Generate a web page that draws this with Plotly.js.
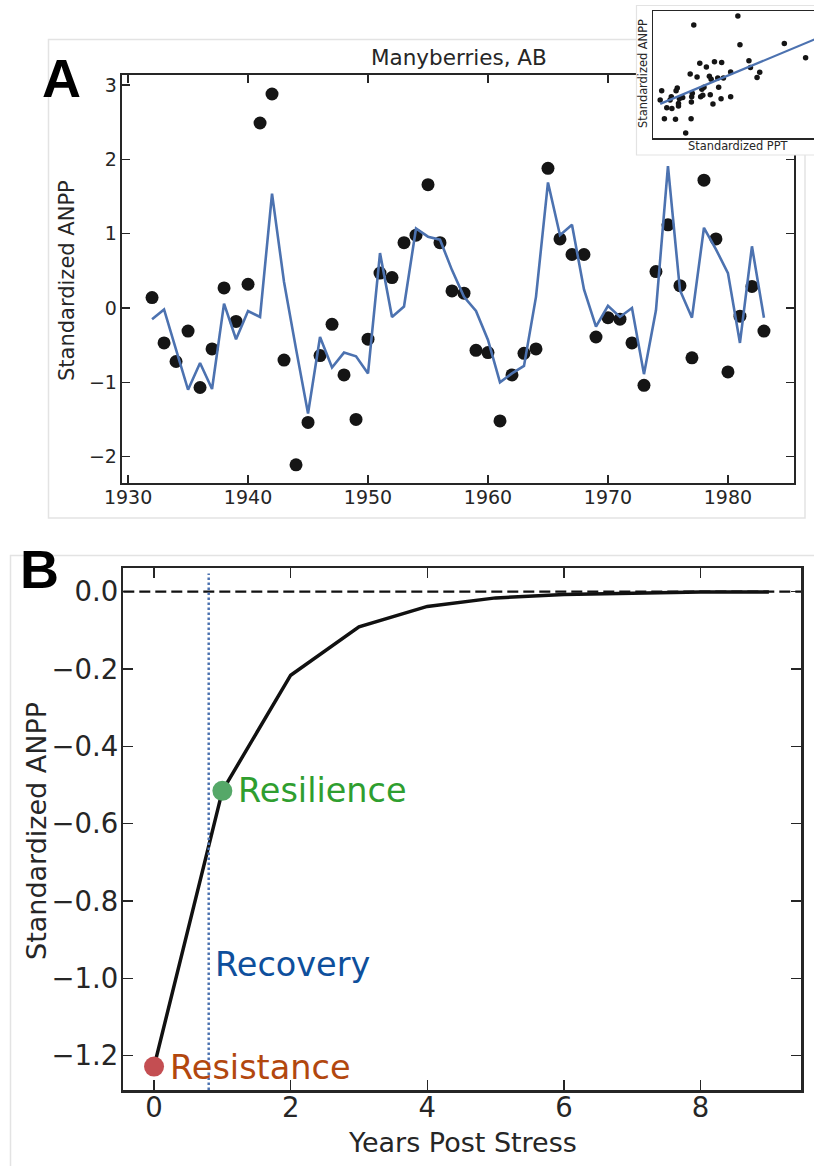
<!DOCTYPE html>
<html><head><meta charset="utf-8">
<script src="https://cdn.plot.ly/plotly-3.0.1.min.js"></script>
<style>html,body{margin:0;padding:0;background:#fff}#chart{width:814px;height:1166px}</style>
</head><body><div id="chart"></div>
<script>
// ---------- Panel A data ----------
const years = [1932,1933,1934,1935,1936,1937,1938,1939,1940,1941,1942,1943,1944,1945,1946,1947,1948,1949,1950,1951,1952,1953,1954,1955,1956,1957,1958,1959,1960,1961,1962,1963,1964,1965,1966,1967,1968,1969,1970,1971,1972,1973,1974,1975,1976,1977,1978,1979,1980,1981,1982,1983];
const anppObserved = [0.14,-0.47,-0.72,-0.31,-1.07,-0.55,0.27,-0.18,0.32,2.49,2.88,-0.70,-2.11,-1.54,-0.64,-0.22,-0.90,-1.50,-0.42,0.47,0.41,0.88,0.98,1.66,0.88,0.23,0.20,-0.57,-0.60,-1.52,-0.90,-0.61,-0.55,1.88,0.93,0.72,0.72,-0.39,-0.13,-0.15,-0.47,-1.04,0.49,1.12,0.30,-0.67,1.72,0.93,-0.86,-0.11,0.29,-0.31];
const anppModeled = [-0.15,-0.02,-0.56,-1.10,-0.74,-1.09,0.06,-0.42,-0.04,-0.12,1.54,0.35,-0.55,-1.42,-0.39,-0.80,-0.60,-0.65,-0.88,0.74,-0.12,0.02,1.07,0.96,0.92,0.51,0.15,-0.04,-0.43,-1.00,-0.88,-0.78,0.15,1.69,0.98,1.12,0.25,-0.25,0.03,-0.12,0.00,-0.89,-0.03,1.91,0.24,-0.13,1.08,0.79,0.47,-0.47,0.83,-0.13];
const yearTicks = [1930,1940,1950,1960,1970,1980];
const anppTicks = [-2,-1,0,1,2,3];

// ---------- Inset data ----------
const insetPPT = [1.26,-0.21,1.33,2.81,3.52,-0.01,0.48,0.72,0.21,1.63,1.68,1.99,1.90,-0.33,-0.10,0.31,0.37,0.59,0.78,1.02,0.13,0.06,0.62,-0.76,-1.28,-0.80,-0.26,-0.28,0.02,0.09,0.34,-0.96,-0.69,-0.58,0.70,1.02,-1.33,-0.72,-1.00,0.43,-1.11,-0.94,-0.72,-0.29,-1.19,-0.82,-0.30,-0.48];
const insetANPP = [2.88,2.50,1.66,1.71,1.10,0.87,0.93,0.90,0.70,0.97,0.68,0.48,0.26,0.41,0.28,0.31,0.18,0.24,0.24,0.49,-0.16,-0.25,-0.16,-0.19,-0.31,-0.31,-0.42,-0.56,-0.56,-0.50,-0.48,-0.56,-0.65,-0.60,-0.65,-0.56,-0.70,-0.85,-0.70,-0.87,-1.03,-1.07,-0.96,-0.79,-1.51,-1.53,-1.50,-2.11];
const insetFitPPT = [-1.33, 4.2];
const insetFitANPP = [-0.87, 2.09];

// ---------- Panel B data ----------
const yearsPostStress = [0,1,2,3,4,5,6,7,8,9];
const recoveryCurve = [-1.228,-0.515,-0.216,-0.091,-0.038,-0.016,-0.007,-0.003,-0.001,-0.0005];
const resistanceX = [0], resistanceY = [-1.228];
const resilienceX = [1], resilienceY = [-0.515];
const recoveryMarkX = 0.8;
const baselineY = 0;
const postTicks = [0,2,4,6,8];
const anppTicksB = [0,-0.2,-0.4,-0.6,-0.8,-1.0,-1.2];

const W = 814, H = 1166;
const px = v => v / W;
const py = v => 1 - v / H;
const FONT = 'DejaVu Sans, sans-serif';
const AX = '#262626';

const traces = [
  {x: years, y: anppObserved, xaxis:'x', yaxis:'y', mode:'markers', type:'scatter',
   marker:{color:'#151515', size:13}, hoverinfo:'skip'},
  {x: years, y: anppModeled, xaxis:'x', yaxis:'y', mode:'lines', type:'scatter',
   line:{color:'#4c72b0', width:2.6}, hoverinfo:'skip'},
  {x: yearsPostStress, y: recoveryCurve, xaxis:'x2', yaxis:'y2', mode:'lines', type:'scatter',
   line:{color:'#111111', width:3.5}, hoverinfo:'skip'},
  {x: resistanceX, y: resistanceY, xaxis:'x2', yaxis:'y2', mode:'markers', type:'scatter',
   marker:{color:'#c44e52', size:20}, cliponaxis:false, hoverinfo:'skip'},
  {x: resilienceX, y: resilienceY, xaxis:'x2', yaxis:'y2', mode:'markers', type:'scatter',
   marker:{color:'#55a868', size:20}, hoverinfo:'skip'},
  // cover subplot (white background under inset)
  {x: [], y: [], xaxis:'x3', yaxis:'y3', mode:'markers', type:'scatter', hoverinfo:'skip'},
  {x: insetPPT, y: insetANPP, xaxis:'x4', yaxis:'y4', mode:'markers', type:'scatter',
   marker:{color:'#151515', size:5.5}, hoverinfo:'skip'},
  {x: insetFitPPT, y: insetFitANPP, xaxis:'x4', yaxis:'y4', mode:'lines', type:'scatter',
   line:{color:'#4c72b0', width:2.2}, hoverinfo:'skip'}
];

const baseAxis = {
  showgrid:false, zeroline:false, showline:true, linecolor:AX, linewidth:2,
  ticks:'inside', tickcolor:AX, tickwidth:1.5, mirror:'ticks',
  tickfont:{family:FONT, color:AX}
};

const layout = {
  width: W, height: H,
  margin:{l:0,r:0,t:0,b:0},
  paper_bgcolor:'#ffffff', plot_bgcolor:'#ffffff',
  showlegend:false,
  font:{family:FONT, color:AX},
  xaxis: Object.assign({}, baseAxis, {
    domain:[px(121.7), px(794.3)], range:[1929.47, 1985.53], anchor:'y',
    tickmode:'array', tickvals: yearTicks, ticktext: yearTicks.map(String),
    ticklen:8, tickfont:{family:FONT, color:AX, size:19}, ticklabelstandoff:-4
  }),
  yaxis: Object.assign({}, baseAxis, {
    domain:[py(482.7), py(75)], range:[-2.351, 3.136], anchor:'x',
    tickmode:'array', tickvals: anppTicks,
    ticklen:8, tickfont:{family:FONT, color:AX, size:19}, ticklabelstandoff:-1
  }),
  xaxis2: Object.assign({}, baseAxis, {
    domain:[px(123.3), px(801)], range:[-0.45, 9.47], anchor:'y2',
    tickmode:'array', tickvals: postTicks, linewidth:2.5,
    ticklen:10, tickfont:{family:FONT, color:AX, size:27.5}, ticklabelstandoff:-9
  }),
  yaxis2: Object.assign({}, baseAxis, {
    domain:[py(1090), py(568.3)], range:[-1.2886, 0.0605], anchor:'x2',
    tickmode:'array', tickvals: anppTicksB, tickformat:'.1f', linewidth:2.5,
    ticklen:10, tickfont:{family:FONT, color:AX, size:27.5}, ticklabelstandoff:-3
  }),
  xaxis3: {domain:[px(636), 1], visible:false, anchor:'y3', range:[0,1]},
  yaxis3: {domain:[py(155), py(5)], visible:false, anchor:'x3', range:[0,1]},
  xaxis4: {domain:[px(652.7), 1], range:[-1.58, 3.8], anchor:'y4',
    showgrid:false, zeroline:false, showticklabels:false, ticks:'',
    showline:true, linecolor:AX, linewidth:1.2, mirror:true},
  yaxis4: {domain:[py(138.3), py(10.7)], range:[-2.34, 3.11], anchor:'x4',
    showgrid:false, zeroline:false, showticklabels:false, ticks:'',
    showline:true, linecolor:AX, linewidth:1.2, mirror:false},
  shapes: [
    {type:'rect', xref:'paper', yref:'paper', x0:px(48.5), x1:px(805), y0:py(518), y1:py(39.5),
     line:{color:'#e3e3e3', width:1.5}, fillcolor:'rgba(0,0,0,0)', layer:'below'},
    {type:'rect', xref:'paper', yref:'paper', x0:px(10.5), x1:px(830), y0:py(1180), y1:py(555.5),
     line:{color:'#e3e3e3', width:1.5}, fillcolor:'rgba(0,0,0,0)', layer:'below'},
    {type:'rect', xref:'paper', yref:'paper', x0:px(636.5), x1:px(830), y0:py(155), y1:py(5.5),
     line:{color:'#e3e3e3', width:1.2}, fillcolor:'rgba(0,0,0,0)', layer:'above'},
    {type:'line', xref:'x2 domain', yref:'y2', x0:0, x1:1, y0:baselineY, y1:baselineY,
     line:{color:'#111111', width:2.2, dash:'11px,5px'}, layer:'above'},
    {type:'line', xref:'x2', yref:'y2 domain', x0:recoveryMarkX, x1:recoveryMarkX, y0:0, y1:0.99,
     line:{color:'#4c72b0', width:2.5, dash:'2.5px,2.5px'}, layer:'above'}
  ],
  annotations: [
    {text:'<b>A</b>', xref:'paper', yref:'paper', x:px(61.5), y:py(78), xanchor:'center', yanchor:'middle',
     showarrow:false, font:{family:'Liberation Sans, Arial, sans-serif', size:54, color:'#000'}},
    {text:'<b>B</b>', xref:'paper', yref:'paper', x:px(39), y:py(569), xanchor:'center', yanchor:'middle',
     showarrow:false, font:{family:'Liberation Sans, Arial, sans-serif', size:54, color:'#000'}},
    {text:'Manyberries, AB', xref:'paper', yref:'paper', x:px(459), y:py(57), xanchor:'center', yanchor:'middle',
     showarrow:false, font:{family:FONT, size:21.5, color:AX}},
    {text:'Standardized ANPP', xref:'paper', yref:'paper', x:px(67), y:py(281), xanchor:'center', yanchor:'middle',
     textangle:-90, showarrow:false, font:{family:FONT, size:21, color:AX}},
    {text:'Standardized ANPP', xref:'paper', yref:'paper', x:px(36), y:py(831), xanchor:'center', yanchor:'middle',
     textangle:-90, showarrow:false, font:{family:FONT, size:27, color:AX}},
    {text:'Years Post Stress', xref:'paper', yref:'paper', x:px(462), y:py(1142), xanchor:'center', yanchor:'middle',
     showarrow:false, font:{family:FONT, size:27, color:AX}},
    {text:'Standardized ANPP', xref:'paper', yref:'paper', x:px(643), y:py(74), xanchor:'center', yanchor:'middle',
     textangle:-90, showarrow:false, font:{family:FONT, size:11.4, color:AX}},
    {text:'Standardized PPT', xref:'paper', yref:'paper', x:px(738), y:py(146), xanchor:'center', yanchor:'middle',
     showarrow:false, font:{family:FONT, size:11.4, color:AX}},
    {text:'Resilience', xref:'paper', yref:'paper', x:px(236), y:py(790.5), xanchor:'left', yanchor:'middle',
     showarrow:false, font:{family:FONT, size:33.5, color:'#2f9e2f'}},
    {text:'Recovery', xref:'paper', yref:'paper', x:px(213), y:py(964), xanchor:'left', yanchor:'middle',
     showarrow:false, font:{family:FONT, size:33.5, color:'#0e4f9c'}},
    {text:'Resistance', xref:'paper', yref:'paper', x:px(168), y:py(1067.5), xanchor:'left', yanchor:'middle',
     showarrow:false, font:{family:FONT, size:33.5, color:'#b2470e'}}
  ]
};

Plotly.newPlot('chart', traces, layout, {staticPlot:true, displayModeBar:false});
</script>
</body></html>
